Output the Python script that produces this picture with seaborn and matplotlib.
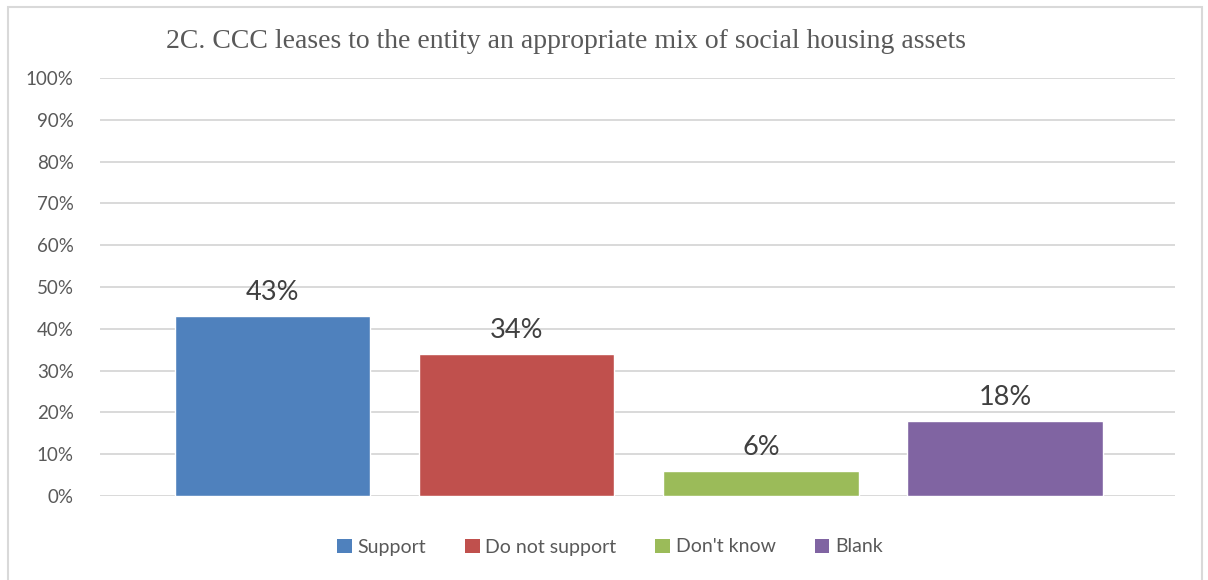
import matplotlib
matplotlib.use("Agg")
import matplotlib.pyplot as plt
import seaborn as sns
import pandas as pd
from matplotlib.patches import Patch, Rectangle
from matplotlib.ticker import PercentFormatter

# Survey responses for question 2C
categories = ["Support", "Do not support", "Don't know", "Blank"]
shares = [43, 34, 6, 18]
colors = ["#4F81BD", "#C0504D", "#9BBB59", "#8064A2"]
y_ticks = [0, 10, 20, 30, 40, 50, 60, 70, 80, 90, 100]
title = "2C. CCC leases to the entity an appropriate mix of social housing assets"

sns.set_theme(style="white")
plt.rcParams["font.family"] = ["Lato", "DejaVu Sans"]

df = pd.DataFrame({"response": categories, "share": shares})

fig = plt.figure(figsize=(12.08, 5.8), dpi=100)
ax = fig.add_axes([100 / 1208, 1 - 496 / 580, 1075 / 1208, 418 / 580])

sns.barplot(data=df, x="response", y="share", hue="response",
            palette=colors, order=categories, hue_order=categories,
            width=0.8, saturation=1, legend=False, ax=ax, zorder=3)

ax.set_ylim(0, 100)
ax.set_xlim(-0.705, 3.695)
ax.set_yticks(y_ticks)
ax.yaxis.set_major_formatter(PercentFormatter(decimals=0))
ax.grid(axis="y", color="#D9D9D9", linewidth=1.4, zorder=0)
ax.grid(axis="x", visible=False)
for s in ax.spines.values():
    s.set_visible(False)
ax.set_xticks([])
ax.set_xlabel("")
ax.set_ylabel("")
ax.tick_params(axis="y", length=0, pad=19, labelsize=13.5, labelcolor="#595959")

for cont in ax.containers:
    ax.bar_label(cont, fmt="%.0f%%", padding=8, fontsize=19.5, color="#404040")

handles = [Patch(facecolor=c, edgecolor="none") for c in colors]
leg = ax.legend(handles, categories, loc="center", bbox_to_anchor=(610 / 1208, 1 - 547 / 580),
                bbox_transform=fig.transFigure, ncol=4, frameon=False,
                fontsize=14, handlelength=0.75, handleheight=0.75,
                handletextpad=0.3, columnspacing=2.0)
for t in leg.get_texts():
    t.set_color("#595959")

fig.text(566 / 1208, 1 - 42 / 580, title, ha="center", va="center",
         fontsize=20, color="#595959",
         family=["Liberation Serif", "DejaVu Serif"])

# light outer frame around the chart area (bottom edge runs off the canvas)
fig.patches.append(Rectangle((8 / 1208, -0.05), 1194 / 1208, 1.05 - 7 / 580,
                             transform=fig.transFigure, fill=False,
                             edgecolor="#D9D9D9", linewidth=1.5))

fig.savefig("out.png", dpi=100, facecolor="white")
